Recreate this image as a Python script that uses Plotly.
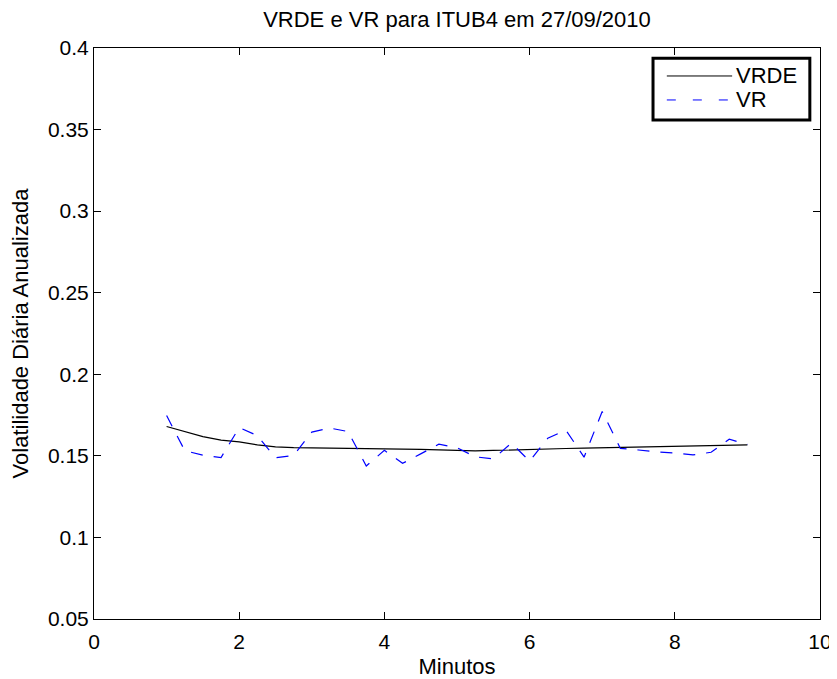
import plotly.graph_objects as go

# minutos (passo de 15 s)
minutos = [1.0, 1.25, 1.5, 1.75, 2.0, 2.25, 2.5, 2.75, 3.0, 3.25, 3.5, 3.75,
           4.0, 4.25, 4.5, 4.75, 5.0, 5.25, 5.5, 5.75, 6.0, 6.25, 6.5, 6.75,
           7.0, 7.25, 7.5, 7.75, 8.0, 8.25, 8.5, 8.75, 9.0]

vrde = [0.168, 0.1648, 0.1618, 0.1596, 0.1586, 0.1567, 0.1555, 0.1551, 0.155,
        0.1549, 0.1548, 0.1545, 0.1542, 0.1542, 0.154, 0.1537, 0.1533, 0.153,
        0.1533, 0.1537, 0.154, 0.1542, 0.1545, 0.1548, 0.155, 0.1552, 0.1554,
        0.1557, 0.1559, 0.156, 0.1562, 0.1564, 0.1567]

vr = [0.1747, 0.1532, 0.1504, 0.149, 0.1673, 0.1624, 0.1488, 0.1502, 0.1646,
      0.167, 0.1649, 0.1438, 0.1534, 0.1454, 0.1512, 0.1572, 0.155, 0.1494,
      0.1482, 0.1578, 0.1468, 0.1608, 0.1658, 0.1492, 0.1772, 0.1546, 0.1536,
      0.1524, 0.1518, 0.1506, 0.1522, 0.1602, 0.157]

x_ticks = [0, 2, 4, 6, 8, 10]
y_ticks = [0.05, 0.1, 0.15, 0.2, 0.25, 0.3, 0.35, 0.4]
y_labels = ["0.05", "0.1", "0.15", "0.2", "0.25", "0.3", "0.35", "0.4"]

font = "Liberation Sans, Arial, sans-serif"

fig = go.Figure()
fig.add_trace(go.Scatter(
    x=minutos, y=vrde, name="VRDE", mode="lines",
    line=dict(color="black", width=1.2)
))
fig.add_trace(go.Scatter(
    x=minutos, y=vr, name="VR", mode="lines",
    line=dict(color="#0000ff", width=1.2, dash="12px,11px")
))

axis_style = dict(
    showline=True, linecolor="black", linewidth=1, mirror="allticks",
    ticks="inside", ticklen=7, tickcolor="black", showgrid=False,
    zeroline=False, automargin=False, ticklabeloverflow="allow",
    tickfont=dict(size=21, color="black"),
)

# legenda desenhada a mao, estilo MATLAB
shapes = [
    dict(type="rect", xref="paper", yref="paper", x0=0.770, x1=0.986, y0=0.874, y1=0.982,
         line=dict(color="black", width=3), fillcolor="white", layer="above"),
    dict(type="line", xref="paper", yref="paper", x0=0.789, x1=0.879, y0=0.951, y1=0.951,
         line=dict(color="black", width=1), layer="above"),
    dict(type="line", xref="paper", yref="paper", x0=0.789, x1=0.879, y0=0.909, y1=0.909,
         line=dict(color="#0000ff", width=1, dash="9px,17px"), layer="above"),
]
annotations = [
    dict(text="VRDE", xref="paper", yref="paper", x=0.882, y=0.951, xanchor="left",
         yanchor="middle", showarrow=False, font=dict(size=22)),
    dict(text="VR", xref="paper", yref="paper", x=0.882, y=0.909, xanchor="left",
         yanchor="middle", showarrow=False, font=dict(size=22)),
]

fig.update_layout(
    width=829, height=671,
    margin=dict(l=86, r=17, t=40, b=60),
    paper_bgcolor="white", plot_bgcolor="white",
    font=dict(family=font, color="black"),
    title=dict(text="VRDE e VR para ITUB4 em 27/09/2010", x=0.5, xanchor="center",
               xref="paper", y=1 - 11 / 671, yanchor="middle", font=dict(size=22)),
    xaxis=dict(range=[0, 10], tickvals=x_ticks, ticklabelstandoff=4,
               title=dict(text="Minutos", font=dict(size=22), standoff=10),
               **axis_style),
    yaxis=dict(range=[0.05, 0.4], tickvals=y_ticks, ticktext=y_labels, ticklabelstandoff=0,
               title=dict(text="Volatilidade Diária Anualizada", font=dict(size=22), standoff=18),
               **axis_style),
    shapes=shapes,
    annotations=annotations,
    showlegend=False,
)

fig.write_html("out.html")
